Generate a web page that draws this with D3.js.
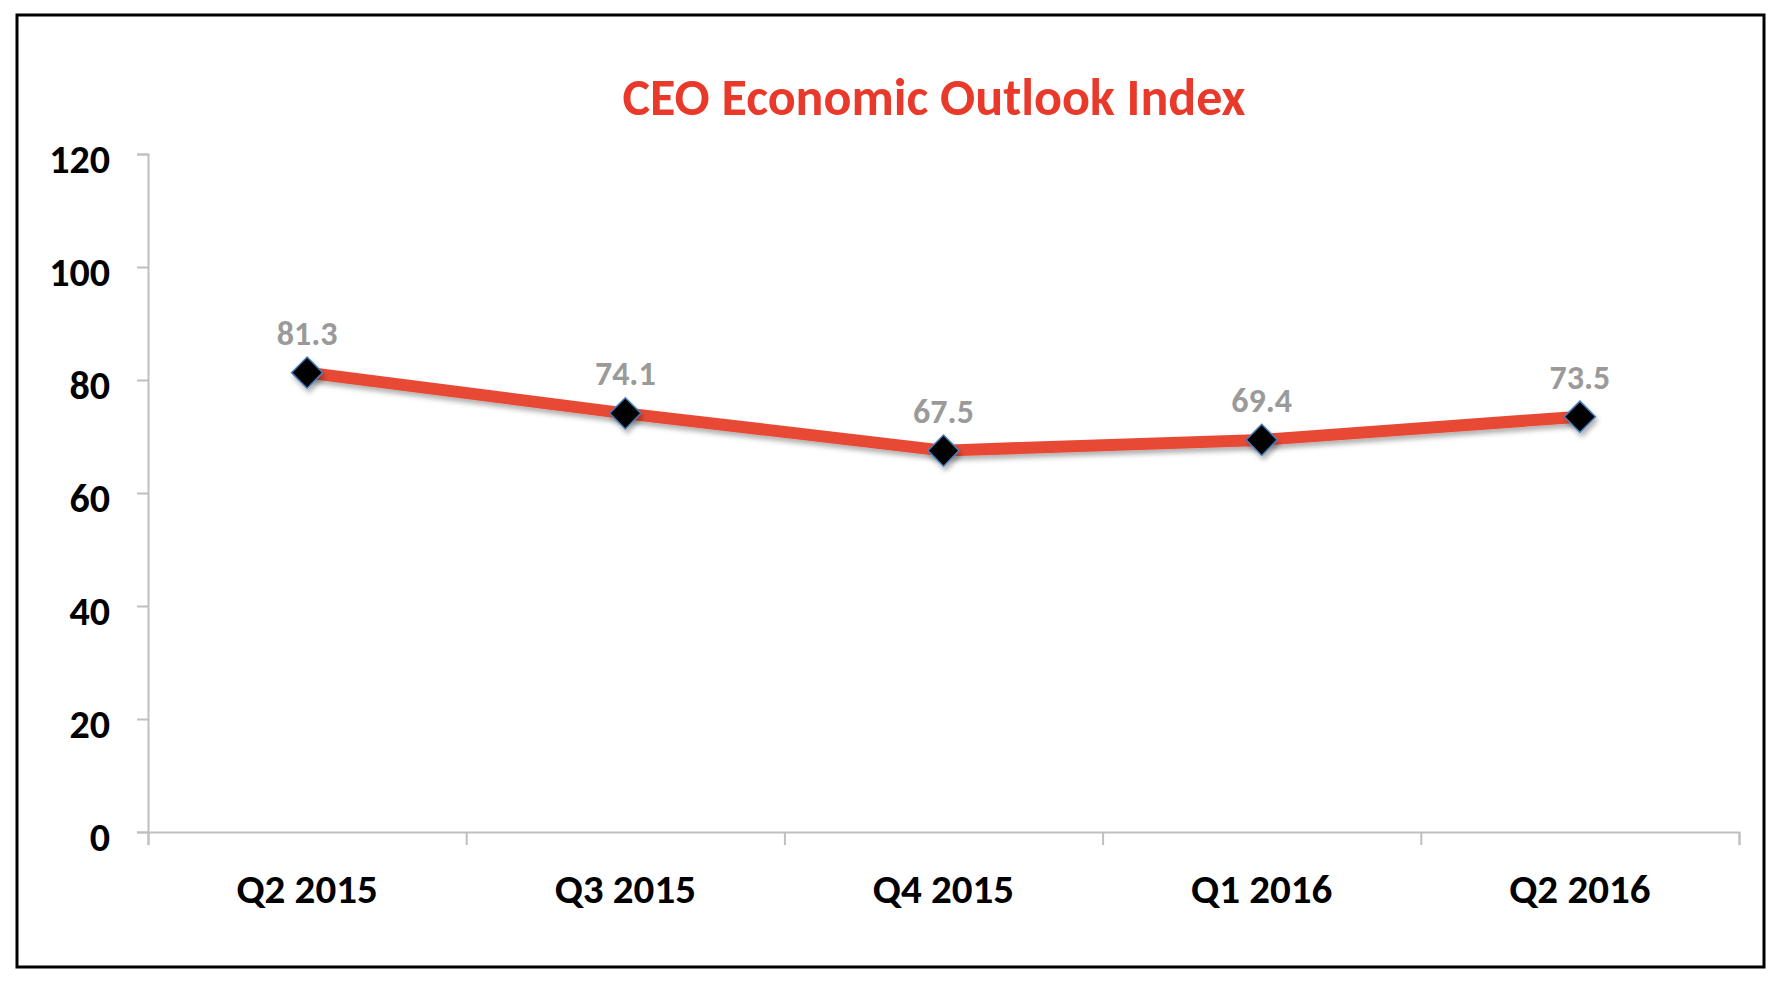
<!DOCTYPE html>
<html>
<head>
<meta charset="utf-8">
<script src="https://cdn.jsdelivr.net/npm/d3@7"></script>
<style>
    body { margin: 0; background: #fff; }
    svg { display: block; font-family: Carlito, Calibri, Lato, "Open Sans", sans-serif; }
    .axis path, .axis line { stroke: #bfbfbf; stroke-width: 2; }
    .axis text { fill: #000; font-weight: bold; font-family: Carlito, Calibri, Lato, sans-serif; }
</style>
</head>
<body>
<div id="svg_container"></div>
<script>
var quarters = ["Q2 2015", "Q3 2015", "Q4 2015", "Q1 2016", "Q2 2016"];
var outlookIndex = [81.3, 74.1, 67.5, 69.4, 73.5];
var yTicks = [0, 20, 40, 60, 80, 100, 120];
var chartTitle = "CEO Economic Outlook Index";

var width = 1779, height = 981;
var margin = {top: 154, right: 40, bottom: 149, left: 148};
var graphWidth = 1739 - margin.left;
var graphHeight = 832 - margin.top;

var svg = d3.select("#svg_container")
        .append("svg")
        .attr("width", width)
        .attr("height", height);

// soft shadows like the office chart
var defs = svg.append("defs");
defs.append("filter")
        .attr("id", "shadow")
        .attr("x", "-20%").attr("y", "-50%")
        .attr("width", "140%").attr("height", "200%")
        .append("feDropShadow")
        .attr("dx", 2).attr("dy", 4)
        .attr("stdDeviation", 2.5)
        .attr("flood-color", "#000")
        .attr("flood-opacity", 0.3);

// frame
svg.append("rect")
        .attr("x", 17)
        .attr("y", 15)
        .attr("width", 1747)
        .attr("height", 952)
        .attr("fill", "#fff")
        .attr("stroke", "#000")
        .attr("stroke-width", 3);

svg.append("text")
        .attr("x", 934)
        .attr("y", 115)
        .attr("text-anchor", "middle")
        .attr("font-size", 52)
        .attr("font-weight", "bold")
        .attr("fill", "#e8392b")
        .text(chartTitle);

var mainGroup = svg.append("g")
        .attr("transform", "translate(" + margin.left + "," + margin.top + ")");

var y = d3.scaleLinear()
        .domain([0, 120])
        .range([graphHeight, 0]);

var x = d3.scaleBand()
        .domain(quarters)
        .range([0, graphWidth])
        .padding(0);

// boundary ticks between categories
var xEdges = d3.scaleLinear()
        .domain([0, quarters.length])
        .range([0, graphWidth]);

mainGroup.append("g")
        .attr("class", "y axis")
        .call(d3.axisLeft(y).tickValues(yTicks).tickSize(11).tickPadding(27))
        .call(function (g) {
            g.attr("font-family", null);
            g.selectAll("text").attr("font-size", 40).attr("dy", "0.45em");
        });

mainGroup.append("g")
        .attr("class", "x axis")
        .attr("transform", "translate(0," + graphHeight + ")")
        .call(d3.axisBottom(xEdges).tickValues(d3.range(quarters.length + 1)).tickSize(13).tickFormat(""));

mainGroup.append("g")
        .attr("class", "x axis labels")
        .attr("transform", "translate(0," + graphHeight + ")")
        .call(d3.axisBottom(x).tickSize(0).tickPadding(42))
        .call(function (g) {
            g.attr("font-family", null);
            g.select(".domain").remove();
            g.selectAll("text").attr("font-size", 41);
        });

var points = quarters.map(function (q, i) {
    return {q: q, v: outlookIndex[i]};
});

var line = d3.line()
        .x(function (d) { return x(d.q) + x.bandwidth() / 2; })
        .y(function (d) { return y(d.v); });

mainGroup.append("path")
        .datum(points)
        .attr("d", line)
        .attr("fill", "none")
        .attr("stroke", "#e84a36")
        .attr("stroke-width", 12)
        .attr("stroke-linejoin", "round")
        .attr("filter", "url(#shadow)");

mainGroup.selectAll(".marker")
        .data(points)
        .enter()
        .append("path")
        .attr("class", "marker")
        .attr("d", d3.symbol().type(d3.symbolDiamond2).size(620))
        .attr("transform", function (d) {
            return "translate(" + (x(d.q) + x.bandwidth() / 2) + "," + y(d.v) + ")";
        })
        .attr("fill", "#000")
        .attr("stroke", "#4a7ebb")
        .attr("stroke-width", 1.5)
        .attr("filter", "url(#shadow)");

mainGroup.selectAll(".value-label")
        .data(points)
        .enter()
        .append("text")
        .attr("class", "value-label")
        .attr("x", function (d) { return x(d.q) + x.bandwidth() / 2; })
        .attr("y", function (d) { return y(d.v) - 28; })
        .attr("text-anchor", "middle")
        .attr("font-size", 34)
        .attr("font-weight", "bold")
        .attr("fill", "#9a9a9a")
        .text(function (d) { return d.v.toFixed(1); });
</script>
</body>
</html>
